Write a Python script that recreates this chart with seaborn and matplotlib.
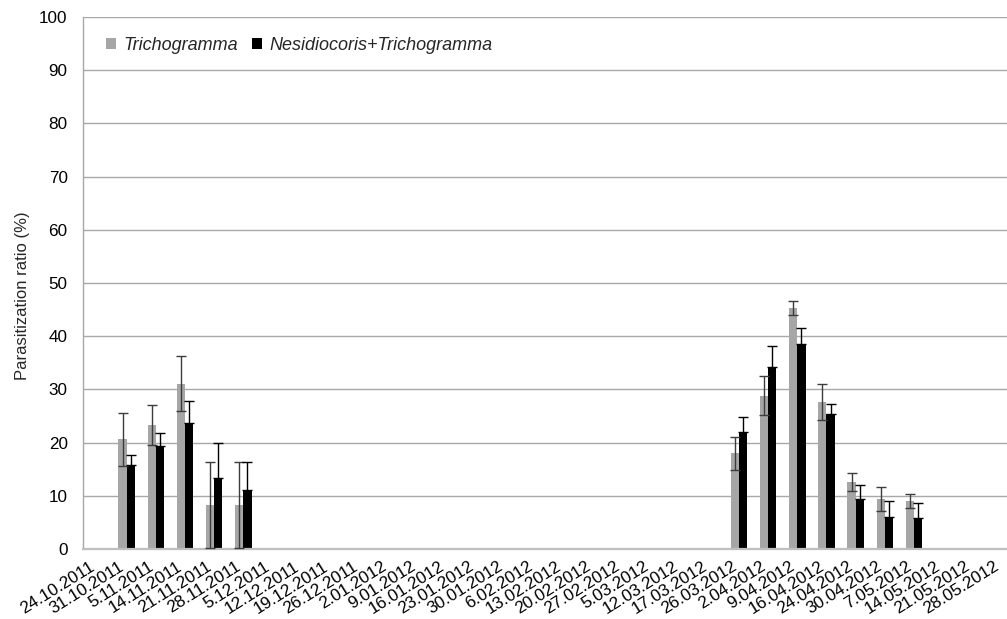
import numpy as np
import pandas as pd
import matplotlib
matplotlib.use("Agg")
import matplotlib.pyplot as plt
import seaborn as sns

dates = ["24.10.2011", "31.10.2011", "5.11.2011", "14.11.2011", "21.11.2011",
         "28.11.2011", "5.12.2011", "12.12.2011", "19.12.2011", "26.12.2011",
         "2.01.2012", "9.01.2012", "16.01.2012", "23.01.2012", "30.01.2012",
         "6.02.2012", "13.02.2012", "20.02.2012", "27.02.2012", "5.03.2012",
         "12.03.2012", "17.03.2012", "26.03.2012", "2.04.2012", "9.04.2012",
         "16.04.2012", "24.04.2012", "30.04.2012", "7.05.2012", "14.05.2012",
         "21.05.2012", "28.05.2012"]

data_dates = ["31.10.2011", "5.11.2011", "14.11.2011", "21.11.2011", "28.11.2011",
              "26.03.2012", "2.04.2012", "9.04.2012", "16.04.2012", "24.04.2012",
              "30.04.2012", "7.05.2012"]
trich = [20.6, 23.3, 31.1, 8.3, 8.3, 18.0, 28.8, 45.3, 27.6, 12.6, 9.4, 9.0]
trich_err = [5.0, 3.7, 5.2, 8.1, 8.1, 3.1, 3.7, 1.4, 3.4, 1.7, 2.2, 1.3]
nes = [15.8, 19.3, 23.6, 13.3, 11.0, 22.0, 34.3, 38.6, 25.4, 9.4, 6.1, 5.8]
nes_err = [1.9, 2.5, 4.2, 6.7, 5.4, 2.9, 3.8, 2.9, 1.8, 2.6, 2.9, 2.8]

series = ["Trichogramma", "Nesidiocoris+Trichogramma"]
colors = ["#A6A6A6", "#000000"]
err_colors = ["#3C3C3C", "#000000"]

df = pd.DataFrame({
    "date": data_dates * 2,
    "value": trich + nes,
    "err": trich_err + nes_err,
    "series": [series[0]] * len(trich) + [series[1]] * len(nes),
})

sns.set_theme(style="white")
plt.rcParams["font.family"] = ["Liberation Sans", "DejaVu Sans"]

fig = plt.figure(figsize=(10.07, 6.19), dpi=100)
ax = fig.add_axes([83 / 1007, 70 / 619, (1016 - 83) / 1007, (549 - 17) / 619])

sns.barplot(data=df, x="date", y="value", hue="series", order=dates,
            hue_order=series, palette=colors, width=0.566, errorbar=None,
            saturation=1, linewidth=0, ax=ax, legend=False)

bar_conts = list(ax.containers)[:2]

# error bars at each drawn bar (black-on-black lower half is invisible in the
# reference, so only the upper half is drawn for the black series)
for k, cont in enumerate(bar_conts):
    sub = df[df["series"] == series[k]].set_index("date")
    for bar in cont:
        h = bar.get_height()
        if not np.isfinite(h):
            continue
        xc = bar.get_x() + bar.get_width() / 2
        cat = dates[int(round(xc))]
        e = sub.loc[cat, "err"]
        yerr = [[e], [e]] if k == 0 else [[0], [e]]
        ax.errorbar(xc, h, yerr=yerr, fmt="none", ecolor=err_colors[k],
                    elinewidth=1.0, capsize=3.6, capthick=1.0, zorder=5)

ax.set_ylim(0, 100)
ax.set_yticks(np.arange(0, 101, 10))
ax.set_xlim(-0.5, len(dates) - 0.5)
ax.yaxis.grid(True, color="#A8A8A8", linewidth=1.0)
ax.set_axisbelow(True)
for s in ["top", "right"]:
    ax.spines[s].set_visible(False)
ax.spines["left"].set_color("#A8A8A8")
ax.spines["bottom"].set_color("#BFBFBF")
ax.spines["bottom"].set_linewidth(1.6)
ax.spines["left"].set_linewidth(1.0)
ax.tick_params(axis="both", length=0, labelsize=12.3, colors="#000000")
ax.tick_params(axis="y", pad=11)
ax.set_xticks(range(len(dates)))
ax.set_xticklabels(dates, rotation=32, ha="right", rotation_mode="default")
ax.tick_params(axis="x", pad=7, labelsize=12.3)
ax.set_xlabel("")
ax.set_ylabel("Parasitization ratio (%)", fontsize=12)
ax.yaxis.set_label_coords(-0.057, 0.477)

leg = ax.legend(bar_conts, series, loc="upper left", bbox_to_anchor=(0.017, 0.976),
                ncol=2, frameon=False, fontsize=13, handlelength=0.55,
                handleheight=0.55, handletextpad=0.4, columnspacing=0.8,
                borderaxespad=0)
for t in leg.get_texts():
    t.set_fontstyle("italic")

fig.savefig("out.png", dpi=100)
